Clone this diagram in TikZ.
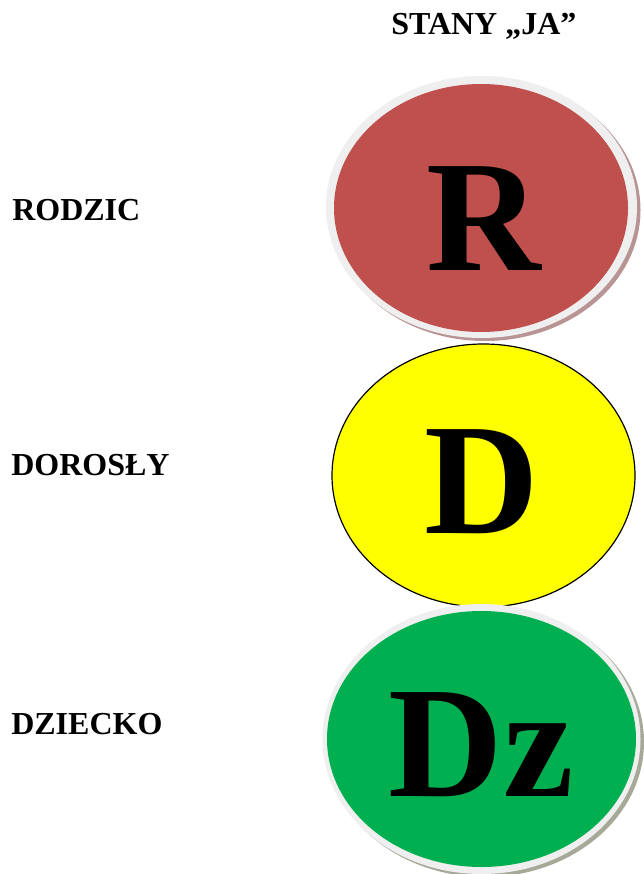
\documentclass[tikz,border=0pt]{standalone}
\usepackage{fontspec}
\setmainfont{Liberation Serif}
\usetikzlibrary{shapes.geometric}
\definecolor{rodzicred}{HTML}{C0504D}
\definecolor{rodzicshadow}{HTML}{B99494}
\definecolor{rimgray}{HTML}{EFEFEF}
\definecolor{dzieckogreen}{HTML}{00B050}
\definecolor{greenshadow}{HTML}{A6A898}
\definecolor{dorosyellow}{HTML}{FFFF00}
\begin{document}
\begin{tikzpicture}[x=0.75pt,y=-0.75pt,
  oval/.style={shape=ellipse,inner sep=0pt,draw=none},
  label/.style={anchor=base west,inner sep=0pt,font=\fontsize{24}{28}\selectfont\bfseries},
  bigletter/.style={anchor=base,inner sep=0pt,font=\fontsize{119}{130}\selectfont\bfseries}]
\useasboundingbox[fill=white] (0,0) rectangle (643,874);
% title
\node[label] (title) at (391,35) {STANY „JA”};
% left labels
\node[label] (lrodzic) at (12,220) {RODZIC};
\node[label] (ldorosly) at (11,475) {DOROSŁY};
\node[label] (ldziecko) at (11,734) {DZIECKO};
% R ellipse
\node[oval,fill=rodzicshadow,minimum width=233.25pt,minimum height=196.5pt] (rshadow) at (485,210) {};
\node[oval,fill=rimgray,minimum width=233.25pt,minimum height=196.5pt] (rrim) at (481.5,207) {};
\node[oval,fill=rodzicred,minimum width=220.5pt,minimum height=186pt] (rfill) at (481,208) {};
\node[bigletter] (rletter) at (484,270) {R};
% D ellipse
\node[oval,draw=black,line width=0.9pt,fill=dorosyellow,minimum width=227.25pt,minimum height=197.25pt] (dfill) at (483.5,475.5) {};
\node[bigletter] (dletter) at (482,533) {D};
% Dz ellipse
\node[oval,fill=greenshadow,minimum width=238.5pt,minimum height=202.5pt] (gshadow) at (485,742) {};
\node[oval,fill=rimgray,minimum width=238.5pt,minimum height=202.5pt] (grim) at (481.5,739) {};
\node[oval,fill=dzieckogreen,minimum width=231.75pt,minimum height=192pt] (gfill) at (481.5,739) {};
\node[bigletter] (dzletter) at (481,796) {Dz};
\end{tikzpicture}
\end{document}
